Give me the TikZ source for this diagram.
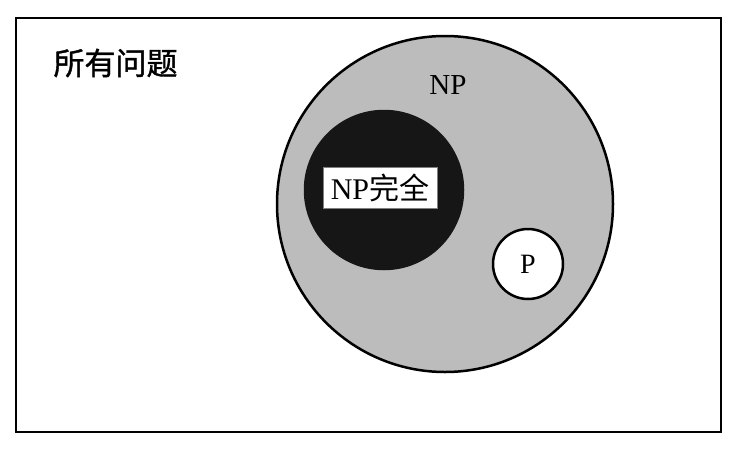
\documentclass[tikz,border=0pt]{standalone}
\usepackage{fontspec}
\setmainfont{Liberation Serif}
\newfontfamily\cjk{Noto Sans CJK SC}
\newfontfamily\cjkhei[FakeBold=1.2]{Noto Sans CJK SC}
\usetikzlibrary{positioning}
\definecolor{npgray}{RGB}{188,188,188}
\definecolor{npcdark}{RGB}{22,22,22}
\tikzset{
  set/.style={circle, draw, line width=2.5pt, inner sep=0pt},
}
\begin{document}
\begin{tikzpicture}[x=1pt, y=-1pt]
      \useasboundingbox (0,0) rectangle (736,456);
      \node[draw, line width=2.5pt, minimum width=705pt, minimum height=414pt] (all) at (368.5,225) {};
      \node[anchor=west, font=\cjkhei\fontsize{31}{31}\selectfont] (alllabel) at (50,63) {所有问题};

      \node[set, fill=npgray, minimum size=336pt] (np) at (445,204) {};
      \node[font=\fontsize{29}{29}\selectfont] (nplabel) at (448,85) {NP};

      \node[set, fill=npcdark, draw=npcdark, minimum size=158pt] (npc) at (384,190) {};
      \node[fill=white, draw=gray, line width=0.6pt, minimum width=114pt, minimum height=41pt, inner sep=0pt,
            font=\fontsize{30}{30}\selectfont] (npclabel) at (380,188) {NP{\cjk 完全}};

      \node[set, fill=white, minimum size=70pt, font=\fontsize{28}{28}\selectfont] (p) at (528,264) {P};
    \end{tikzpicture}
\end{document}
